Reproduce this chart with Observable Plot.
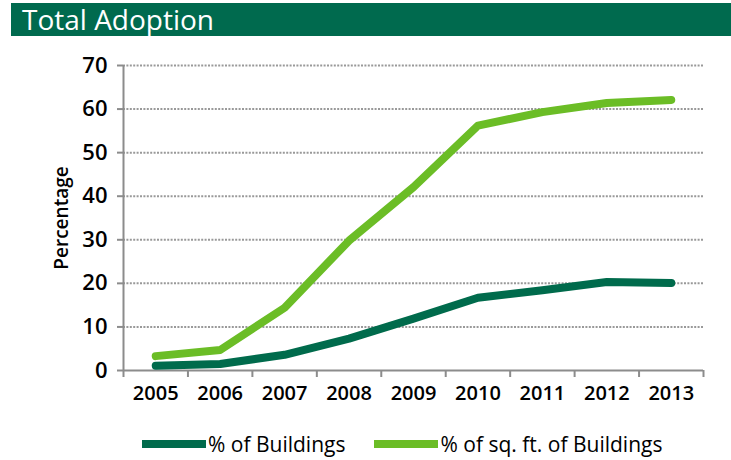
<!DOCTYPE html>
<html><head><meta charset="utf-8">
<script src="https://cdn.jsdelivr.net/npm/d3@7"></script>
<script src="https://cdn.jsdelivr.net/npm/@observablehq/plot@0.6"></script>
<style>
body{margin:0;background:#fff;font-family:"Open Sans",sans-serif;width:731px;height:460px;overflow:hidden;position:relative}
#hdr{position:absolute;left:11px;top:3px;width:720px;height:33px;background:#006a4e;color:#fff;font-size:28px;line-height:33px;padding-left:11px;box-sizing:border-box;white-space:nowrap}
#chart{position:absolute;left:0;top:36px}
#legend{position:absolute;top:431px;left:142px;height:26px;display:flex;align-items:center;font-size:21px;color:#000;line-height:26px;white-space:nowrap}
.sw{display:inline-block;width:64px;height:8px;margin-right:2px}
.item{display:flex;align-items:center}
</style></head>
<body>
<div id="hdr">Total Adoption</div>
<div id="chart"></div>
<div id="legend"></div>
<script>
const years = [2005, 2006, 2007, 2008, 2009, 2010, 2011, 2012, 2013];
const buildings = [1.1, 1.5, 3.6, 7.3, 11.9, 16.7, 18.4, 20.3, 20.1];
const sqft = [3.3, 4.7, 14.4, 29.8, 42.1, 56.2, 59.3, 61.4, 62.1];
const seriesNames = ["% of Buildings", "% of sq. ft. of Buildings"];
const seriesColors = ["#006b4c", "#6bbd26"];
const yTicks = [0, 10, 20, 30, 40, 50, 60, 70];

const rows = [];
years.forEach((yr, i) => {
  rows.push({year: yr, value: buildings[i], series: seriesNames[0]});
  rows.push({year: yr, value: sqft[i], series: seriesNames[1]});
});
const bounds = years.map(y => y - 0.5).concat([years[years.length - 1] + 0.5]);

const chart = Plot.plot({
  width: 731,
  height: 390,
  marginLeft: 123,
  marginRight: 28,
  marginTop: 29,
  marginBottom: 56,
  style: {fontFamily: "Open Sans", background: "transparent", overflow: "visible"},
  x: {type: "linear", domain: [bounds[0], bounds[bounds.length - 1]]},
  y: {domain: [0, 70]},
  color: {domain: seriesNames, range: seriesColors},
  marks: [
    Plot.gridY(yTicks.slice(1), {stroke: "#999", strokeOpacity: 1, strokeWidth: 2, strokeDasharray: "2,1.4"}),
    Plot.ruleX([bounds[0]], {stroke: "#8c8c8c", strokeWidth: 2}),
    Plot.ruleY([0], {stroke: "#8c8c8c", strokeWidth: 2}),
    Plot.axisY({ticks: yTicks, tickSize: 6, tickPadding: 10, stroke: "#8c8c8c", strokeWidth: 2, fill: "#000", fontSize: 22, fontWeight: 600, label: null, tickFormat: d => String(d)}),
    Plot.axisX({ticks: bounds, tickSize: 7, stroke: "#8c8c8c", strokeWidth: 2, tickFormat: () => "", label: null}),
    Plot.axisX({ticks: years, tickSize: 0, tickPadding: 15, fill: "#000", fontSize: 20, fontWeight: 600, tickFormat: d => String(d), label: null}),
    Plot.text(["Percentage"], {frameAnchor: "left", textAnchor: "middle", rotate: -90, dx: -62, fontSize: 19, fontWeight: 600, fill: "#000"}),
    Plot.line(rows, {x: "year", y: "value", z: "series", stroke: "series", strokeWidth: 8, strokeLinecap: "round", strokeLinejoin: "round"})
  ]
});
document.getElementById("chart").appendChild(chart);

const legend = document.getElementById("legend");
seriesNames.forEach((name, i) => {
  const item = document.createElement("div");
  item.className = "item";
  if (i > 0) item.style.marginLeft = "29px";
  const sw = document.createElement("span");
  sw.className = "sw";
  sw.style.background = seriesColors[i];
  const t = document.createElement("span");
  t.textContent = name;
  item.appendChild(sw);
  item.appendChild(t);
  legend.appendChild(item);
});
</script>
</body></html>
